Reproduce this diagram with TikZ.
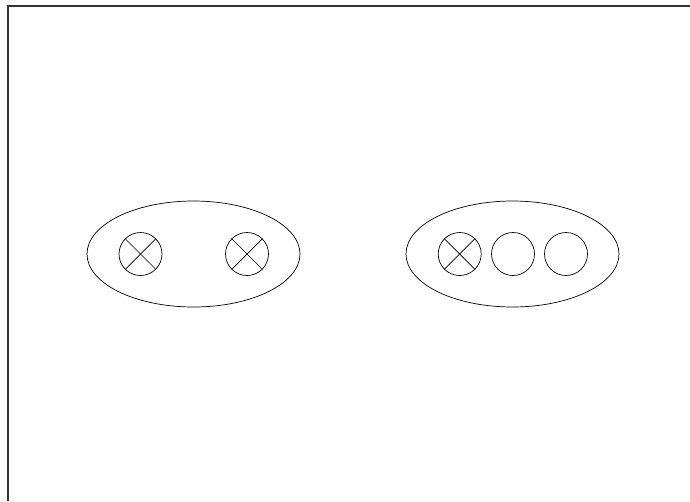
\documentclass[tikz,border=0pt]{standalone}
\usepackage{tikz}
\usetikzlibrary{shapes.geometric}
\tikzset{
  frameLine/.style={
    line width=1.4pt,
    draw=black!80
  },
  groupOval/.style={
    ellipse,
    draw,
    line width=0.7pt,
    minimum width=213pt,
    minimum height=106pt,
    inner sep=0pt
  },
  lampCircle/.style={
    circle,
    draw,
    line width=0.7pt,
    minimum size=43pt,
    inner sep=0pt
  },
  lampCross/.style={
    line width=0.7pt
  }
}
\begin{document}
\begin{tikzpicture}[x=1pt,y=-1pt]
  \useasboundingbox (0,0) rectangle (690,501);
  \draw[frameLine] (8,501) -- (8,6) -- (690,6);

  \node[groupOval] (groupA) at (193.5,254) {};
  \node[groupOval] (groupB) at (512.5,254) {};

  \node[lampCircle] (lampA) at (140.5,254) {};
  \node[lampCircle] (lampB) at (247,254) {};
  \node[lampCircle] (lampC) at (459.7,254) {};
  \node[lampCircle] (lampD) at (513,254) {};
  \node[lampCircle] (lampE) at (566,254) {};

  \foreach \lamp in {lampA,lampB,lampC} {
    \draw[lampCross] (\lamp.north west) -- (\lamp.south east);
    \draw[lampCross] (\lamp.north east) -- (\lamp.south west);
  }
\end{tikzpicture}
\end{document}
